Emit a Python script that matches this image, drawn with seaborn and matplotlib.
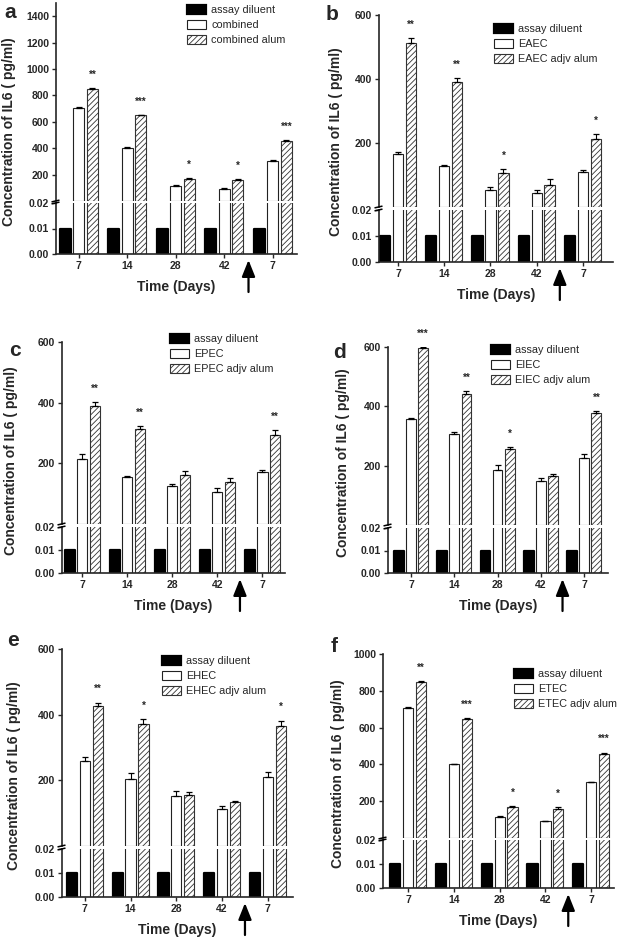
import matplotlib
matplotlib.use('Agg')
import matplotlib.pyplot as plt
import pandas as pd
import seaborn as sns
from matplotlib.patches import Patch
from matplotlib.lines import Line2D

sns.set_style('ticks')
plt.rcParams['font.family'] = ['Liberation Sans', 'DejaVu Sans']
plt.rcParams['hatch.linewidth'] = 0.6

W, H = 622, 940

# data
days = ['7', '14', '28', '42', '7']
groups = ['g1', 'g2', 'g3', 'g4', 'g5']
diluent = [0.01, 0.01, 0.01, 0.01, 0.01]

a_vac = [703, 405, 117, 94, 305]
a_alum = [848, 648, 168, 156, 457]
a_err_vac = [6, 3, 5, 3, 3]
a_err_alum = [6, 5, 5, 12, 5]
a_stars = ['**', '***', '*', '*', '***']

b_vac = [167, 129, 54, 44, 108]
b_alum = [512, 390, 107, 70, 213]
b_err_vac = [4, 3, 8, 8, 9]
b_err_alum = [15, 14, 12, 18, 16]
b_stars = ['**', '**', '*', '', '*']

c_vac = [213, 154, 125, 106, 170]
c_alum = [390, 314, 161, 140, 295]
c_err_vac = [18, 4, 6, 12, 9]
c_err_alum = [13, 10, 13, 13, 14]
c_stars = ['**', '**', '', '', '**']

d_vac = [356, 306, 185, 150, 227]
d_alum = [596, 442, 257, 166, 376]
d_err_vac = [6, 8, 17, 9, 12]
d_err_alum = [3, 9, 6, 6, 7]
d_stars = ['***', '**', '*', '', '**']

e_vac = [258, 203, 151, 112, 211]
e_alum = [427, 371, 156, 134, 364]
e_err_vac = [13, 18, 15, 10, 13]
e_err_alum = [10, 16, 8, 4, 18]
e_stars = ['**', '*', '', '', '*']

f_vac = [704, 401, 113, 92, 303]
f_alum = [846, 648, 167, 157, 459]
f_err_vac = [8, 3, 5, 2, 3]
f_err_alum = [5, 5, 5, 12, 5]
f_stars = ['**', '***', '*', '*', '***']

panels = {
    'a': dict(names=['combined', 'combined alum'], vac=a_vac, alum=a_alum,
              err=(a_err_vac, a_err_alum), stars=a_stars,
              ymax=1500, ticks=[200, 400, 600, 800, 1000, 1200, 1400],
              box=(56, 297, 3, 201, 203, 254), xlim=(-0.47, 4.5),
              legend=(187, 11), letter=(10, 13), ylab=47),
    'b': dict(names=['EAEC', 'EAEC adjv alum'], vac=b_vac, alum=b_alum,
              err=(b_err_vac, b_err_alum), stars=b_stars,
              ymax=600, ticks=[200, 400, 600],
              box=(379, 613, 15, 207, 210, 262), xlim=(-0.41, 4.65),
              legend=(494, 30), letter=(332, 15), ylab=43),
    'c': dict(names=['EPEC', 'EPEC adjv alum'], vac=c_vac, alum=c_alum,
              err=(c_err_vac, c_err_alum), stars=c_stars,
              ymax=600, ticks=[200, 400, 600],
              box=(62, 285, 342, 524, 527, 573), xlim=(-0.45, 4.5),
              legend=(170, 340), letter=(15, 350), ylab=51),
    'd': dict(names=['EIEC', 'EIEC adjv alum'], vac=d_vac, alum=d_alum,
              err=(d_err_vac, d_err_alum), stars=d_stars,
              ymax=600, ticks=[200, 400, 600],
              box=(388, 608, 347, 525, 528, 573), xlim=(-0.53, 4.55),
              legend=(491, 351), letter=(339, 353), ylab=45),
    'e': dict(names=['EHEC', 'EHEC adjv alum'], vac=e_vac, alum=e_alum,
              err=(e_err_vac, e_err_alum), stars=e_stars,
              ymax=600, ticks=[200, 400, 600],
              box=(62, 293, 649, 846, 849, 897), xlim=(-0.5, 4.55),
              legend=(162, 662), letter=(13, 640), ylab=48),
    'f': dict(names=['ETEC', 'ETEC adjv alum'], vac=f_vac, alum=f_alum,
              err=(f_err_vac, f_err_alum), stars=f_stars,
              ymax=1000, ticks=[200, 400, 600, 800, 1000],
              box=(383, 614, 654, 838, 840, 888), xlim=(-0.55, 4.5),
              legend=(514, 675), letter=(334, 647), ylab=45),
}

fig = plt.figure(figsize=(W / 100, H / 100), dpi=100)


def style_bars(ax, hi):
    black, white, hatched = ax.containers[:3]
    for b in black:
        b.set_joinstyle('round')
        b.set_linewidth(1.6)
        if hi:
            b.set_visible(False)
    for b in white:
        b.set_edgecolor('#222222')
        b.set_linewidth(0.8)
    for b in hatched:
        b.set_hatch('//////')
        b.set_edgecolor('#333333')
        b.set_linewidth(0.8)


def bold_ticks(ax):
    for lbl in ax.get_xticklabels() + ax.get_yticklabels():
        lbl.set_fontweight('bold')


def draw_panel(key, p):
    left, right, top, ub, lt, bottom = p['box']
    ax_lo = fig.add_axes([left / W, 1 - bottom / H, (right - left) / W, (bottom - lt) / H])
    ax_hi = fig.add_axes([left / W, 1 - ub / H, (right - left) / W, (ub - top) / H])
    ax_hi.patch.set_alpha(0)

    series = ['assay diluent'] + p['names']
    df = pd.DataFrame({
        'group': groups * 3,
        'series': [s for s in series for _ in groups],
        'value': diluent + p['vac'] + p['alum'],
    })

    for ax, hi in ((ax_lo, False), (ax_hi, True)):
        sns.barplot(data=df, x='group', y='value', hue='series', order=groups,
                    hue_order=series, palette=['black', 'white', 'white'],
                    saturation=1, width=0.84, gap=0.2, errorbar=None,
                    edgecolor='black', legend=False, ax=ax)
        style_bars(ax, hi)
        ax.set_xlim(*p['xlim'])
        ax.set_xlabel('')
        ax.set_ylabel('')
        ax.tick_params(direction='out', length=3, width=1, labelsize=7.5, pad=2)
        for s in ('top', 'right'):
            ax.spines[s].set_visible(False)
        ax.spines['left'].set_linewidth(1.2)
        ax.spines['bottom'].set_linewidth(1.2)

    ax_lo.set_ylim(0, 0.02)
    ax_lo.set_yticks([0, 0.01, 0.02])
    ax_lo.set_yticklabels(['0.00', '0.01', '0.02'])
    ax_lo.set_xticks(range(len(days)))
    ax_lo.set_xticklabels(days)
    bold_ticks(ax_lo)

    ax_hi.set_ylim(0, p['ymax'])
    ax_hi.set_yticks(p['ticks'])
    ax_hi.set_yticklabels([str(t) for t in p['ticks']])
    ax_hi.spines['bottom'].set_visible(False)
    ax_hi.tick_params(axis='x', bottom=False, labelbottom=False)
    bold_ticks(ax_hi)

    # error bars (upper only) and significance stars
    for cont, vals, err in ((ax_hi.containers[1], p['vac'], p['err'][0]),
                            (ax_hi.containers[2], p['alum'], p['err'][1])):
        xs = [b.get_x() + b.get_width() / 2 for b in cont]
        ax_hi.errorbar(xs, vals, yerr=[[0] * len(vals), err], fmt='none',
                       ecolor='black', elinewidth=0.8, capsize=2, capthick=0.9, zorder=5)
    xs = [b.get_x() + b.get_width() / 2 for b in ax_hi.containers[2]]
    for x, v, e, s in zip(xs, p['alum'], p['err'][1], p['stars']):
        if s:
            ax_hi.annotate(s, (x, v + e), xytext=(0, 6), textcoords='offset points',
                           ha='center', va='bottom', fontsize=7, fontweight='bold')

    # axis break marks
    for y in (lt, ub):
        fig.add_artist(Line2D([(left - 4) / W, (left + 3) / W],
                              [1 - (y + 0.8) / H, 1 - (y - 0.8) / H],
                              color='black', lw=1.1))

    # booster arrow
    h = bottom - lt
    ax_lo.annotate('', xy=(3.5, -6 / h), xytext=(3.5, -38 / h),
                   xycoords=ax_lo.get_xaxis_transform(),
                   textcoords=ax_lo.get_xaxis_transform(),
                   arrowprops=dict(arrowstyle='-|>,head_length=1.0,head_width=0.4',
                                   color='black', lw=1.6, shrinkA=0, shrinkB=0,
                                   mutation_scale=10),
                   annotation_clip=False)

    fig.text((left + right) / 2 / W, 1 - (bottom + 33) / H, 'Time (Days)',
             ha='center', va='center', fontsize=10, fontweight='bold')
    fig.text((left - p['ylab']) / W, 1 - ((top + bottom) / 2 + 3) / H,
             'Concentration of IL6 ( pg/ml)', rotation=90, ha='center',
             va='center', fontsize=10, fontweight='bold')
    fig.text(p['letter'][0] / W, 1 - p['letter'][1] / H, key, ha='center',
             va='center', fontsize=15, fontweight='bold')

    handles = [Patch(facecolor='black', edgecolor='black', lw=1.6, joinstyle='round'),
               Patch(facecolor='white', edgecolor='#222222', lw=0.8),
               Patch(facecolor='white', edgecolor='#333333', lw=0.8, hatch='//////')]
    lx, ly = p['legend']
    fig.legend(handles, series, loc='upper left',
               bbox_to_anchor=(lx / W, 1 - (ly - 6) / H), frameon=False,
               fontsize=7.8, handlelength=1.75, handleheight=0.85,
               labelspacing=0.45, handletextpad=0.5, borderpad=0, borderaxespad=0)


for key, p in panels.items():
    draw_panel(key, p)

fig.savefig('out.png', dpi=100)
